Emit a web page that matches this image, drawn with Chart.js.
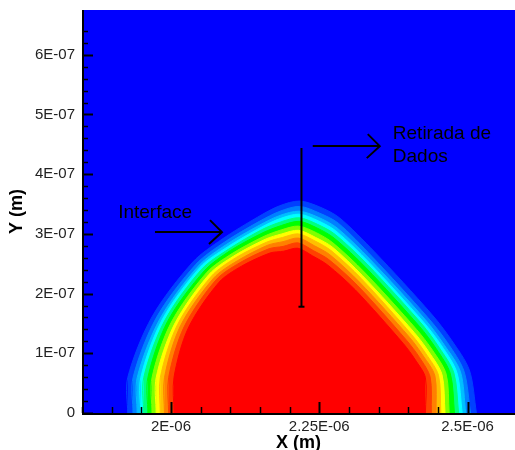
<!DOCTYPE html>
<html>
<head>
<meta charset="utf-8">
<script src="https://cdn.jsdelivr.net/npm/chart.js@4.4.0/dist/chart.umd.min.js"></script>
<style>
    html, body { margin: 0; padding: 0; background: #fff; }
    canvas { display: block; }
</style>
</head>
<body>
<canvas id="dropletContour" width="515" height="450"></canvas>
<script>
// Axis ranges in micrometres (labels are printed in metres)
const xRange = [1.85, 2.58];
const yRange = [0, 0.675];
const xTickStep = 0.05;
const xLabelStep = 0.25;
const yTickStep = 0.02;
const yLabelStep = 0.1;

// Volume fraction flood colours, from the outer band to the liquid core
const levelColors = [
    '#0040FF', '#0080FF', '#00BFFF', '#00FFFF', '#00FF80', '#00FF00',
    '#80FF00', '#FFFF00', '#FFBF00', '#FF8000', '#FF4000', '#FF0000'
];

// Contour outlines [x, y] in micrometres, outermost level first
const level01 = [[1.927, 0], [1.927, 0.059], [1.968, 0.161], [2.037, 0.253], [2.086, 0.291], [2.146, 0.328], [2.183, 0.347], [2.217, 0.355], [2.251, 0.345], [2.284, 0.327], [2.343, 0.270], [2.439, 0.166], [2.473, 0.122], [2.503, 0.072], [2.515, 0]];
const level02 = [[1.936, 0], [1.936, 0.059], [1.975, 0.159], [2.042, 0.249], [2.090, 0.286], [2.149, 0.321], [2.184, 0.338], [2.217, 0.346], [2.250, 0.335], [2.282, 0.318], [2.339, 0.262], [2.433, 0.160], [2.466, 0.118], [2.494, 0.070], [2.505, 0]];
const level03 = [[1.943, 0], [1.943, 0.059], [1.981, 0.157], [2.046, 0.246], [2.093, 0.282], [2.150, 0.315], [2.184, 0.331], [2.216, 0.338], [2.248, 0.328], [2.280, 0.310], [2.336, 0.257], [2.429, 0.156], [2.460, 0.115], [2.488, 0.069], [2.497, 0]];
const level04 = [[1.949, 0], [1.949, 0.059], [1.985, 0.156], [2.049, 0.244], [2.095, 0.278], [2.152, 0.311], [2.185, 0.326], [2.216, 0.333], [2.248, 0.322], [2.278, 0.305], [2.334, 0.252], [2.426, 0.152], [2.456, 0.113], [2.482, 0.068], [2.491, 0]];
const level05 = [[1.954, 0], [1.954, 0.059], [1.989, 0.154], [2.052, 0.241], [2.098, 0.275], [2.153, 0.307], [2.185, 0.320], [2.216, 0.327], [2.247, 0.316], [2.277, 0.299], [2.332, 0.248], [2.423, 0.149], [2.452, 0.110], [2.477, 0.067], [2.485, 0]];
const level06 = [[1.961, 0], [1.961, 0.059], [1.994, 0.153], [2.056, 0.238], [2.100, 0.272], [2.155, 0.302], [2.186, 0.314], [2.216, 0.321], [2.246, 0.310], [2.275, 0.293], [2.329, 0.243], [2.419, 0.145], [2.447, 0.108], [2.471, 0.066], [2.478, 0]];
const level07 = [[1.968, 0], [1.968, 0.059], [2.000, 0.151], [2.060, 0.235], [2.103, 0.267], [2.157, 0.296], [2.187, 0.307], [2.215, 0.313], [2.245, 0.302], [2.273, 0.285], [2.326, 0.236], [2.414, 0.140], [2.441, 0.105], [2.464, 0.065], [2.469, 0]];
const level08 = [[1.975, 0], [1.975, 0.059], [2.006, 0.149], [2.064, 0.232], [2.106, 0.263], [2.159, 0.291], [2.187, 0.300], [2.215, 0.306], [2.244, 0.294], [2.272, 0.278], [2.323, 0.230], [2.410, 0.135], [2.435, 0.102], [2.457, 0.064], [2.462, 0]];
const level09 = [[1.982, 0], [1.982, 0.059], [2.011, 0.148], [2.068, 0.229], [2.109, 0.260], [2.161, 0.286], [2.188, 0.294], [2.215, 0.300], [2.243, 0.288], [2.270, 0.272], [2.321, 0.225], [2.406, 0.131], [2.430, 0.099], [2.451, 0.063], [2.455, 0]];
const level10 = [[1.989, 0], [1.989, 0.059], [2.016, 0.146], [2.072, 0.226], [2.112, 0.255], [2.163, 0.281], [2.189, 0.287], [2.215, 0.293], [2.242, 0.280], [2.268, 0.265], [2.318, 0.219], [2.402, 0.127], [2.425, 0.096], [2.445, 0.062], [2.447, 0]];
const level11 = [[1.996, 0], [1.996, 0.059], [2.022, 0.144], [2.076, 0.223], [2.115, 0.251], [2.165, 0.275], [2.189, 0.279], [2.214, 0.285], [2.240, 0.272], [2.266, 0.257], [2.315, 0.213], [2.397, 0.122], [2.419, 0.093], [2.437, 0.060], [2.439, 0]];
const level12 = [[2.005, 0], [2.005, 0.059], [2.029, 0.142], [2.081, 0.219], [2.119, 0.246], [2.167, 0.268], [2.190, 0.271], [2.214, 0.276], [2.239, 0.263], [2.264, 0.248], [2.311, 0.206], [2.392, 0.116], [2.412, 0.089], [2.429, 0.059], [2.429, 0]];
const levels = [level01, level02, level03, level04, level05, level06,
                level07, level08, level09, level10, level11, level12];

// Data extraction line and the notes pointing at it
const probeLine = [[2.220, 0.444], [2.220, 0.178]];
const probeArrow = [[2.239, 0.447], [2.352, 0.447]];
const interfaceArrow = [[1.973, 0.303], [2.086, 0.303]];
const notes = [
    { text: 'Interface', at: [1.911, 0.335] },
    { text: 'Retirada de', at: [2.374, 0.468] },
    { text: 'Dados', at: [2.374, 0.430] }
];

const FONT = '"Liberation Sans", Arial, Helvetica, sans-serif';

function toPoints(list) {
    return list.map(p => ({ x: p[0], y: p[1] }));
}

function onStep(v, step) {
    const r = v / step;
    return Math.abs(r - Math.round(r)) < 1e-6;
}

// 2.25 -> "2.25E-06", 0.1 -> "1E-07"
function sciLabel(v) {
    if (Math.abs(v) < 1e-9) return '0';
    const m = v * 1e-6;
    const e = Math.floor(Math.log10(m) + 1e-9);
    const mant = +(m / Math.pow(10, e)).toFixed(3);
    return mant + 'E-' + String(-e).padStart(2, '0');
}

const datasets = levels.map((lvl, i) => ({
    data: toPoints(lvl),
    showLine: true,
    fill: 'origin',
    tension: 0.3,
    pointRadius: 0,
    pointHoverRadius: 0,
    borderWidth: 1,
    borderColor: levelColors[i],
    backgroundColor: levelColors[i],
    order: levels.length - i
}));

datasets.push({
    data: toPoints(probeLine),
    showLine: true,
    borderColor: '#000',
    borderWidth: 2,
    pointRadius: [0, 3],
    pointHoverRadius: 0,
    pointStyle: 'line',
    pointBorderColor: '#000',
    pointBorderWidth: 2,
    order: 0
});

function drawArrow(ctx, x1, y1, x2, y2) {
    ctx.beginPath();
    ctx.moveTo(x1, y1);
    ctx.lineTo(x2, y2);
    ctx.moveTo(x2 - 12, y2 - 12);
    ctx.lineTo(x2, y2);
    ctx.lineTo(x2 - 13, y2 + 12);
    ctx.stroke();
}

const plotFrame = {
    id: 'plotFrame',
    beforeDraw(chart) {
        const { ctx, chartArea: a } = chart;
        ctx.save();
        ctx.fillStyle = '#0000FF';
        ctx.fillRect(a.left, a.top, a.right - a.left, a.bottom - a.top);
        ctx.restore();
    },
    afterDraw(chart) {
        const { ctx, chartArea: a } = chart;
        const xs = chart.scales.x;
        const ys = chart.scales.y;
        ctx.save();
        ctx.strokeStyle = '#000';

        // tick marks point into the plot
        xs.ticks.forEach(t => {
            if (!onStep(t.value, xTickStep)) return;
            const major = onStep(t.value, xLabelStep);
            const px = Math.round(xs.getPixelForValue(t.value)) + 0.5;
            ctx.lineWidth = major ? 2 : 1.5;
            ctx.beginPath();
            ctx.moveTo(px, a.bottom);
            ctx.lineTo(px, a.bottom - (major ? 11 : 6));
            ctx.stroke();
        });
        ys.ticks.forEach(t => {
            if (!onStep(t.value, yTickStep)) return;
            const major = onStep(t.value, yLabelStep);
            const py = Math.round(ys.getPixelForValue(t.value)) + 0.5;
            ctx.lineWidth = major ? 2 : 1.5;
            ctx.beginPath();
            ctx.moveTo(a.left, py);
            ctx.lineTo(a.left + (major ? 11 : 6), py);
            ctx.stroke();
        });

        // axis lines
        ctx.lineWidth = 2;
        ctx.beginPath();
        ctx.moveTo(a.left + 1, a.top);
        ctx.lineTo(a.left + 1, a.bottom + 1);
        ctx.lineTo(a.right, a.bottom + 1);
        ctx.stroke();

        // arrows
        ctx.lineWidth = 2;
        [interfaceArrow, probeArrow].forEach(arr => {
            drawArrow(ctx,
                xs.getPixelForValue(arr[0][0]), ys.getPixelForValue(arr[0][1]),
                xs.getPixelForValue(arr[1][0]), ys.getPixelForValue(arr[1][1]));
        });

        // notes
        ctx.fillStyle = '#000';
        ctx.font = '19px ' + FONT;
        ctx.textAlign = 'left';
        ctx.textBaseline = 'middle';
        notes.forEach(n => {
            ctx.fillText(n.text, xs.getPixelForValue(n.at[0]), ys.getPixelForValue(n.at[1]));
        });
        ctx.restore();
    }
};

const ctx = document.getElementById('dropletContour').getContext('2d');
const contourChart = new Chart(ctx, {
    type: 'scatter',
    data: { datasets: datasets },
    options: {
        responsive: false,
        animation: false,
        layout: { autoPadding: false, padding: { top: 10, left: 0, right: 0, bottom: 0 } },
        plugins: {
            legend: { display: false },
            tooltip: { enabled: false }
        },
        scales: {
            x: {
                type: 'linear',
                min: xRange[0],
                max: xRange[1],
                afterFit: (scale) => {
                    scale.height = 37;
                    scale.paddingLeft = 0;
                    scale.paddingRight = 0;
                },
                grid: { display: false, drawTicks: false },
                border: { display: false },
                ticks: {
                    stepSize: xTickStep,
                    autoSkip: false,
                    maxRotation: 0,
                    minRotation: 0,
                    padding: 5,
                    color: '#222',
                    font: { family: FONT, size: 15 },
                    callback: (v) => onStep(v, xLabelStep) ? sciLabel(v) : ''
                },
                title: {
                    display: true,
                    text: 'X (m)',
                    color: '#000',
                    font: { family: FONT, size: 18, weight: 'bold' },
                    padding: { top: 0, bottom: -4 }
                }
            },
            y: {
                type: 'linear',
                min: yRange[0],
                max: yRange[1],
                afterFit: (scale) => {
                    scale.width = 82;
                    scale.paddingTop = 0;
                    scale.paddingBottom = 0;
                },
                grid: { display: false, drawTicks: false },
                border: { display: false },
                ticks: {
                    stepSize: yTickStep,
                    autoSkip: false,
                    padding: 7,
                    color: '#222',
                    font: { family: FONT, size: 15 },
                    callback: (v) => onStep(v, yLabelStep) ? sciLabel(v) : ''
                },
                title: {
                    display: true,
                    text: 'Y (m)',
                    color: '#000',
                    font: { family: FONT, size: 18, weight: 'bold' },
                    padding: { top: 6, bottom: 0 }
                }
            }
        }
    },
    plugins: [plotFrame]
});
</script>
</body>
</html>
